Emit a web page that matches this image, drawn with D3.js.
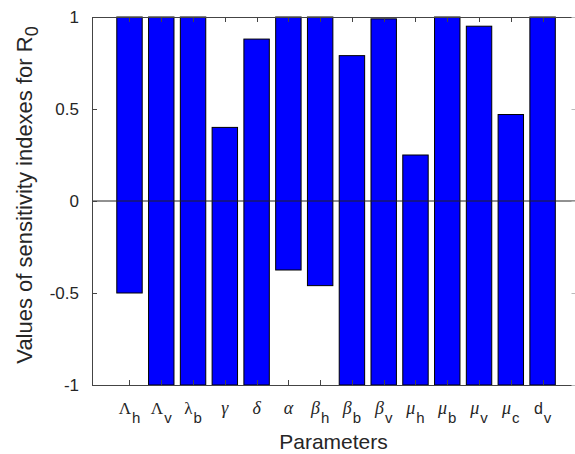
<!DOCTYPE html>
<html><head><meta charset="utf-8">
<script src="https://cdn.jsdelivr.net/npm/d3@7"></script>
<style>body{margin:0;background:#fff}svg{display:block}</style>
</head><body>
<script>
// Data
const paramBase = ["Λ","Λ","λ","γ","δ","α","β","β","β","μ","μ","μ","μ","d"];
const paramSub  = ["h","v","b","","","","h","b","v","h","b","v","c","v"];
const paramItalic = [false,false,false,true,true,true,true,true,true,true,true,true,true,false];
const sensitivity = [-0.5, 1, 1, 0.40, 0.88, -0.375, -0.46, 0.79, 0.99, 0.25, 1, 0.95, 0.47, 1];
const yTicks = [-1, -0.5, 0, 0.5, 1];
const yTickLabels = ["-1", "-0.5", "0", "0.5", "1"];

const W = 575, H = 454;
const m = {left: 92, right: 575, top: 17, bottom: 385};
const svg = d3.select("body").append("svg").attr("width", W).attr("height", H);

const x = d3.scaleLinear().domain([-0.18, 15.02]).range([m.left, m.right]);
const y = d3.scaleLinear().domain([-1, 1]).range([m.bottom, m.top]);
const bw = (x(1) - x(0)) * 0.8;
const axisColor = "#444";
const boxRight = 576.5;

// bars
svg.append("g").selectAll("rect").data(sensitivity).join("rect")
  .attr("x", (d, i) => x(i + 1) - bw / 2)
  .attr("width", bw)
  .attr("y", d => d >= 0 ? y(d) : y(1))
  .attr("height", d => d >= 0 ? y(-1) - y(d) : y(d) - y(1))
  .attr("fill", "#0000ff")
  .attr("stroke", "#000")
  .attr("stroke-width", 1);

// zero baseline
svg.append("line").attr("x1", m.left).attr("x2", boxRight)
  .attr("y1", y(0)).attr("y2", y(0)).attr("stroke", "#222").attr("stroke-width", 1);

// axes box
const g = svg.append("g").attr("stroke", axisColor).attr("stroke-width", 1).attr("fill", "none");
g.append("line").attr("x1", m.left).attr("x2", boxRight).attr("y1", m.top + 0.5).attr("y2", m.top + 0.5);
g.append("line").attr("x1", m.left).attr("x2", boxRight).attr("y1", m.bottom + 0.5).attr("y2", m.bottom + 0.5);
g.append("line").attr("x1", m.left + 0.5).attr("x2", m.left + 0.5).attr("y1", m.top).attr("y2", m.bottom + 0.5);
g.append("line").attr("x1", boxRight).attr("x2", boxRight).attr("y1", m.top).attr("y2", m.bottom + 0.5);

// ticks (inward)
const tl = 5;
yTicks.forEach(t => {
  const yy = Math.round(y(t)) + 0.5;
  g.append("line").attr("x1", m.left).attr("x2", m.left + tl).attr("y1", yy).attr("y2", yy);
  g.append("line").attr("x1", boxRight - tl).attr("x2", boxRight).attr("y1", yy).attr("y2", yy).attr("stroke", "#bbb");
});
sensitivity.forEach((d, i) => {
  const xx = Math.round(x(i + 1)) + 0.5;
  g.append("line").attr("x1", xx).attr("x2", xx).attr("y1", m.bottom).attr("y2", m.bottom - tl);
  g.append("line").attr("x1", xx).attr("x2", xx).attr("y1", m.top).attr("y2", m.top + tl);
});

// y tick labels
svg.append("g").selectAll("text").data(yTicks).join("text")
  .attr("x", 79).attr("y", d => y(d) + 6)
  .attr("text-anchor", "end")
  .attr("font-family", "Liberation Sans, Arial, sans-serif")
  .attr("font-size", 17).attr("fill", "#262626")
  .text((d, i) => yTickLabels[i]);

// x tick labels
const xl = svg.append("g");
paramBase.forEach((b, i) => {
  const t = xl.append("text").attr("x", x(i + 1)).attr("y", 414)
    .attr("text-anchor", "middle").attr("fill", "#262626");
  const isGreek = b !== "d";
  t.append("tspan")
    .attr("font-family", isGreek ? "Liberation Serif, Times New Roman, serif" : "Liberation Sans, Arial, sans-serif")
    .attr("font-style", paramItalic[i] ? "italic" : "normal")
    .attr("font-size", isGreek ? (paramItalic[i] ? 18 : 17) : 16)
    .text(b);
  if (paramSub[i]) {
    t.append("tspan")
      .attr("font-family", "Liberation Sans, Arial, sans-serif")
      .attr("font-size", 15).attr("dy", 9).attr("dx", 1)
      .text(paramSub[i]);
  }
});

// axis titles
svg.append("text").attr("x", (m.left + m.right) / 2).attr("y", 449)
  .attr("text-anchor", "middle")
  .attr("font-family", "Liberation Sans, Arial, sans-serif")
  .attr("font-size", 21).attr("fill", "#262626")
  .text("Parameters");

const yl = svg.append("text")
  .attr("transform", `translate(32,${(m.top + m.bottom) / 2 - 6}) rotate(-90)`)
  .attr("text-anchor", "middle")
  .attr("font-family", "Liberation Sans, Arial, sans-serif")
  .attr("font-size", 22).attr("fill", "#262626");
yl.append("tspan").text("Values of sensitivity indexes for R");
yl.append("tspan").attr("font-size", 18).attr("dy", 6).text("0");
</script>
</body></html>
